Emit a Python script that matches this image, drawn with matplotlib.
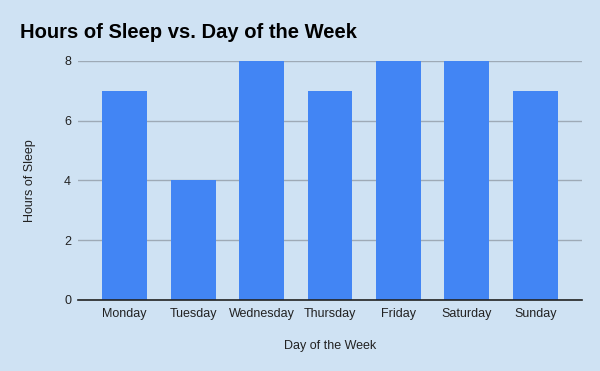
import matplotlib
matplotlib.use("Agg")
import matplotlib.pyplot as plt

days = ["Monday", "Tuesday", "Wednesday", "Thursday", "Friday", "Saturday", "Sunday"]
hours = [7, 4, 8, 7, 8, 8, 7]
yticks = [0, 2, 4, 6, 8]

plt.rcParams['font.family'] = ['Liberation Sans', 'DejaVu Sans']
bg = "#cfe2f3"
fig = plt.figure(figsize=(6, 3.71), dpi=100, facecolor=bg)
ax = fig.add_axes([0.13, 0.1914, 0.84, 0.6442], facecolor=bg)

x = list(range(len(days)))
ax.bar(x, hours, width=0.657, color="#4285f4", zorder=3)
ax.set_xlim(-0.68, len(days) - 1 + 0.68)
ax.set_ylim(0, 8)
ax.set_yticks(yticks)
ax.set_xticks(x)
ax.set_xticklabels(days, fontsize=9, color="#222222")
ax.tick_params(axis='y', labelsize=9, colors="#222222", length=0, pad=5)
ax.tick_params(axis='x', length=0, pad=6)
ax.yaxis.grid(True, color="#9eaab6", linewidth=1, zorder=0)
for s in ["top", "right", "left"]:
    ax.spines[s].set_visible(False)
ax.spines["bottom"].set_color("#222222")
ax.spines["bottom"].set_linewidth(1.2)
ax.spines["bottom"].set_zorder(4)

ax.set_xlabel("Day of the Week", fontsize=9, color="#222222", labelpad=14)
ax.set_ylabel("Hours of Sleep", fontsize=9, color="#222222", labelpad=20)
fig.text(20/600, 1 - 33/371, "Hours of Sleep vs. Day of the Week", fontsize=14.5,
         fontweight="bold", va="center", ha="left", color="#000000")

fig.savefig("out.png", dpi=100, facecolor=bg)
